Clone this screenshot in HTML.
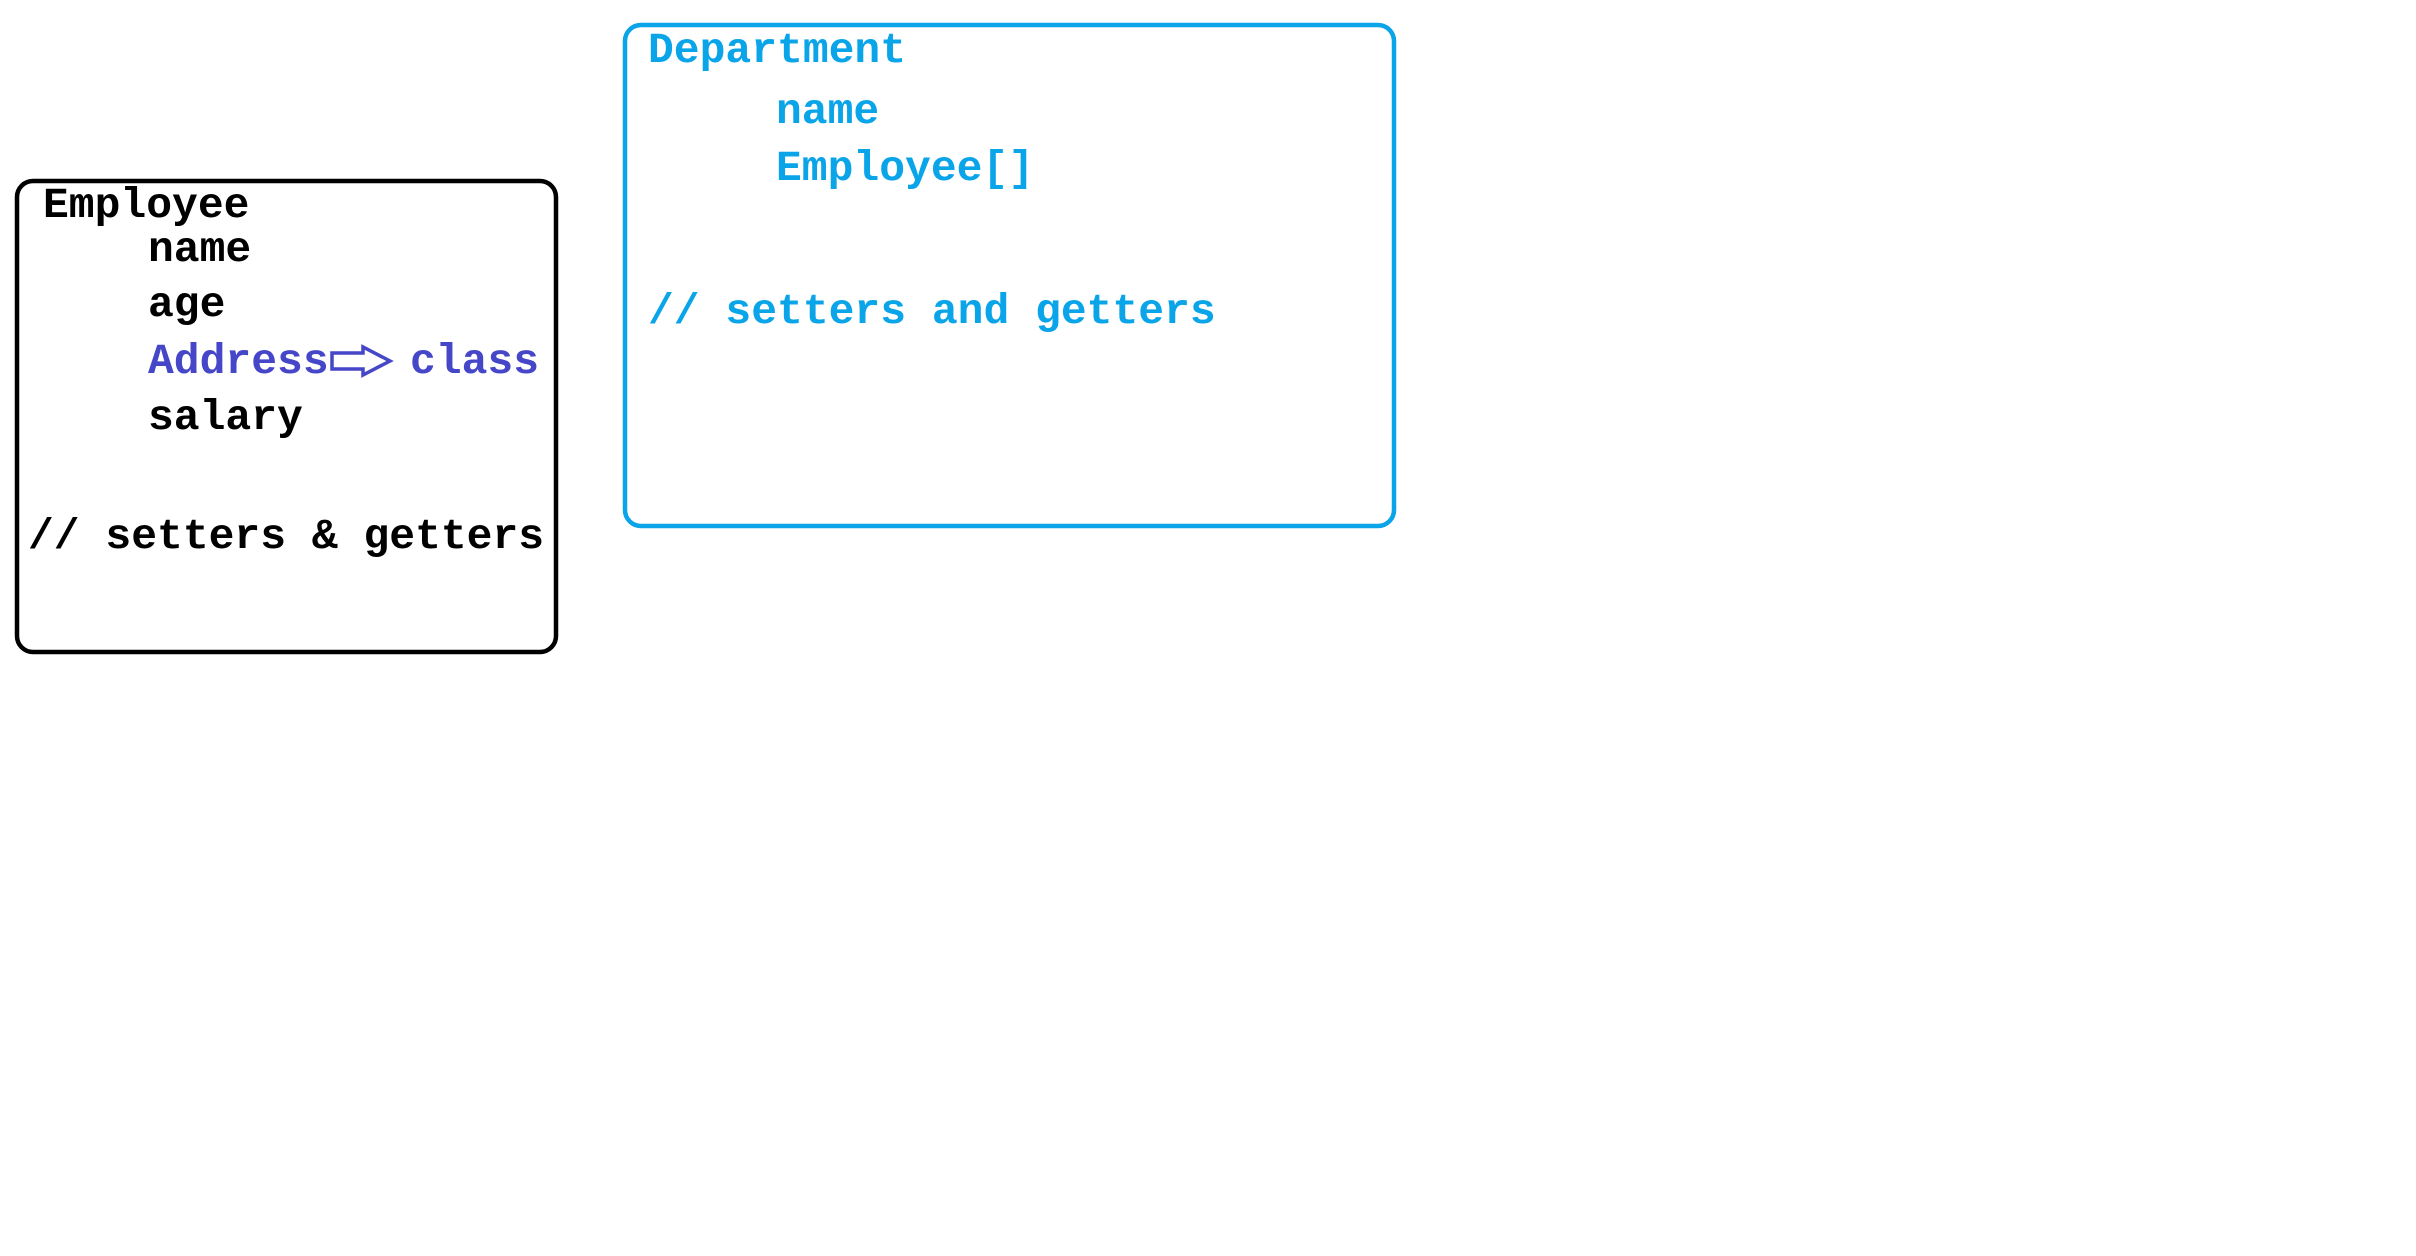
<!DOCTYPE html>
<html><head><meta charset="utf-8"><style>
html,body{margin:0;padding:0;background:#fff;width:2416px;height:1256px;overflow:hidden}
svg text{font-family:"Liberation Mono","DejaVu Sans Mono",monospace;font-weight:bold;font-size:43px}
</style></head><body>
<svg width="2416" height="1256" viewBox="0 0 2416 1256" xmlns="http://www.w3.org/2000/svg">
<rect x="17" y="181" width="539" height="471" rx="16" fill="none" stroke="#000" stroke-width="4.5"/>
<text x="43" y="217" fill="#000">Employee</text>
<text x="148" y="261" fill="#000">name</text>
<text x="148" y="316" fill="#000">age</text>
<text x="148" y="373" fill="#4646c8">Address</text>
<path d="M332 353 H363 V347 L390 361 L363 375 V369 H332 Z" fill="none" stroke="#4646c8" stroke-width="3.5" stroke-linejoin="miter"/>
<text x="410" y="373" fill="#4646c8">class</text>
<text x="148" y="429" fill="#000">salary</text>
<text x="28" y="548" fill="#000">// setters &amp; getters</text>
<rect x="625" y="25" width="769" height="501" rx="16" fill="none" stroke="#0aa4e8" stroke-width="4.5"/>
<text x="648" y="62" fill="#0aa4e8">Department</text>
<text x="776" y="123" fill="#0aa4e8">name</text>
<text x="776" y="180" fill="#0aa4e8">Employee[]</text>
<text x="648" y="323" fill="#0aa4e8">// setters and getters</text>
</svg>
</body></html>
